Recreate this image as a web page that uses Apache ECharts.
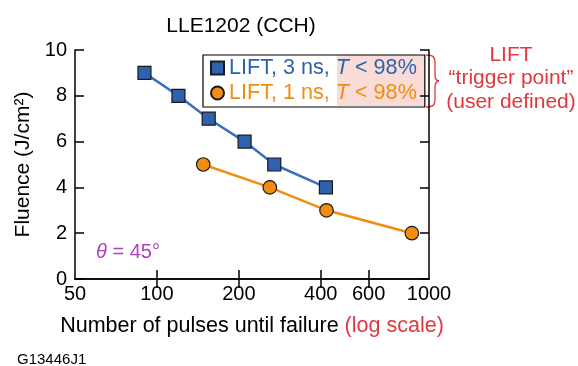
<!DOCTYPE html>
<html>
<head>
<meta charset="utf-8">
<script src="https://cdn.jsdelivr.net/npm/echarts@6/dist/echarts.min.js"></script>
<style>
  html, body { margin: 0; padding: 0; background: #fff; }
  #chart { width: 578px; height: 366px; }
</style>
</head>
<body>
<div id="chart"></div>
<script>
// pulses until failure vs fluence
const lift3nsPulses = [90, 120, 155, 210, 270, 418]
const lift3nsFluence = [9, 8, 7, 6, 5, 4]
const lift1nsPulses = [148, 260, 420, 865]
const lift1nsFluence = [5, 4, 3, 2]
const xTicks = [50, 100, 200, 400, 600, 1000]

const blue = '#2f62ae'
const orange = '#f28c12'
const red = '#e0383e'
const font = 'Liberation Sans'

const chart = echarts.init(document.getElementById('chart'))

const xBase = {
  type: 'log',
  min: 50,
  max: 1000,
  axisLine: { lineStyle: { color: '#000', width: 1.5 } },
  axisTick: { inside: true, length: 9, lineStyle: { color: '#000', width: 1.5 }, customValues: xTicks.slice(1, -1) },
  minorTick: { show: false },
  splitLine: { show: false }
}
const yBase = {
  type: 'value',
  min: 0,
  max: 10,
  interval: 2,
  axisLine: { show: true, lineStyle: { color: '#000', width: 1.5 } },
  axisTick: { show: true, inside: true, length: 9, lineStyle: { color: '#000', width: 1.5 } },
  splitLine: { show: false }
}

// curly brace next to the legend
const braceStyle = { fill: null, stroke: red, lineWidth: 1.3 }
const brace = [
  { type: 'bezierCurve', shape: { x1: 426, y1: 55, cpx1: 433, cpy1: 55, cpx2: 435, cpy2: 57, x2: 435, y2: 62 } },
  { type: 'line', shape: { x1: 435, y1: 62, x2: 435, y2: 75 } },
  { type: 'bezierCurve', shape: { x1: 435, y1: 75, cpx1: 435, cpy1: 79, cpx2: 436, cpy2: 80.5, x2: 439, y2: 81 } },
  { type: 'bezierCurve', shape: { x1: 439, y1: 81, cpx1: 436, cpy1: 81.5, cpx2: 435, cpy2: 83, x2: 435, y2: 87 } },
  { type: 'line', shape: { x1: 435, y1: 87, x2: 435, y2: 100 } },
  { type: 'bezierCurve', shape: { x1: 435, y1: 100, cpx1: 435, cpy1: 105, cpx2: 433, cpy2: 107, x2: 426, y2: 107 } }
].map(g => Object.assign(g, { style: braceStyle }))

chart.setOption({
  animation: false,
  textStyle: { fontFamily: font },
  title: {
    text: 'LLE1202 (CCH)',
    left: 236,
    top: 11,
    textAlign: 'center',
    textStyle: { fontFamily: font, fontSize: 21, fontWeight: 'normal', color: '#000' }
  },
  grid: { left: 75, right: 149, top: 50, bottom: 87 },
  xAxis: [
    Object.assign({}, xBase, {
      position: 'bottom',
      axisLabel: {
        color: '#000', fontSize: 20, margin: 5, customValues: xTicks,
        formatter: v => String(Math.round(v))
      },
      name: '{b|Number of pulses until failure }{r|(log scale)}',
      nameLocation: 'middle',
      nameGap: 36,
      nameTextStyle: {
        rich: {
          b: { fontSize: 21.5, color: '#000', fontFamily: font },
          r: { fontSize: 21.5, color: red, fontFamily: font }
        }
      }
    }),
    Object.assign({}, xBase, { position: 'top', axisLabel: { show: false } })
  ],
  yAxis: [
    Object.assign({}, yBase, {
      position: 'left',
      axisLabel: { color: '#000', fontSize: 20, margin: 8 },
      name: 'Fluence (J/cm²)',
      nameLocation: 'middle',
      nameGap: 41,
      nameTextStyle: { fontSize: 21, color: '#000', fontFamily: font }
    }),
    Object.assign({}, yBase, { position: 'right', axisLabel: { show: false } })
  ],
  legend: {
    orient: 'vertical',
    left: 203,
    top: 55,
    padding: [1, 8, 2, 7],
    itemGap: 1,
    itemWidth: 13,
    itemHeight: 13,
    borderColor: '#000',
    borderWidth: 1.2,
    data: [
      { name: 'LIFT, 3 ns', icon: 'rect' },
      { name: 'LIFT, 1 ns', icon: 'circle' }
    ],
    formatter: function (name) {
      const k = name.indexOf('3') >= 0 ? 'b' : 'o'
      return '{' + k + '|' + name + ', }{' + k + 'i|T}{' + k + '| < 98%}'
    },
    textStyle: {
      fontSize: 21.6,
      fontFamily: font,
      lineHeight: 24,
      rich: {
        b: { color: blue, fontSize: 21.6, lineHeight: 24, fontFamily: font },
        bi: { color: blue, fontSize: 21.6, lineHeight: 24, fontFamily: font, fontStyle: 'italic' },
        o: { color: orange, fontSize: 21.6, lineHeight: 24, fontFamily: font },
        oi: { color: orange, fontSize: 21.6, lineHeight: 24, fontFamily: font, fontStyle: 'italic' }
      }
    }
  },
  graphic: [
    {
      type: 'rect',
      z: -1,
      shape: { x: 337, y: 55, width: 88, height: 51 },
      style: { fill: '#f9dcd7' }
    }
  ].concat(brace, [
    {
      type: 'text',
      x: 511, y: 43,
      style: {
        text: 'LIFT\n“trigger point”\n(user defined)',
        fill: red, fontSize: 21, fontFamily: font, lineHeight: 23.5,
        align: 'center', verticalAlign: 'top'
      }
    },
    {
      type: 'text',
      left: 96, top: 242,
      style: {
        text: '{i|θ} = 45°',
        fontSize: 20, fontFamily: font, fill: '#b040bd',
        rich: { i: { fontStyle: 'italic', fontSize: 20, fontFamily: font, color: '#b040bd' } }
      }
    },
    {
      type: 'text',
      left: 17, top: 352,
      style: { text: 'G13446J1', fontSize: 15, fontFamily: font, fill: '#000' }
    }
  ]),
  series: [
    {
      name: 'LIFT, 3 ns',
      type: 'line',
      data: lift3nsPulses.map((x, i) => [x, lift3nsFluence[i]]),
      symbol: 'rect',
      symbolSize: 13,
      itemStyle: { color: blue, borderColor: '#1a1a1a', borderWidth: 1.2 },
      lineStyle: { color: '#3b6fc0', width: 2.5 }
    },
    {
      name: 'LIFT, 1 ns',
      type: 'line',
      data: lift1nsPulses.map((x, i) => [x, lift1nsFluence[i]]),
      symbol: 'circle',
      symbolSize: 13.5,
      itemStyle: { color: orange, borderColor: '#1a1a1a', borderWidth: 1.2 },
      lineStyle: { color: orange, width: 2.5 }
    }
  ]
})
</script>
</body>
</html>
